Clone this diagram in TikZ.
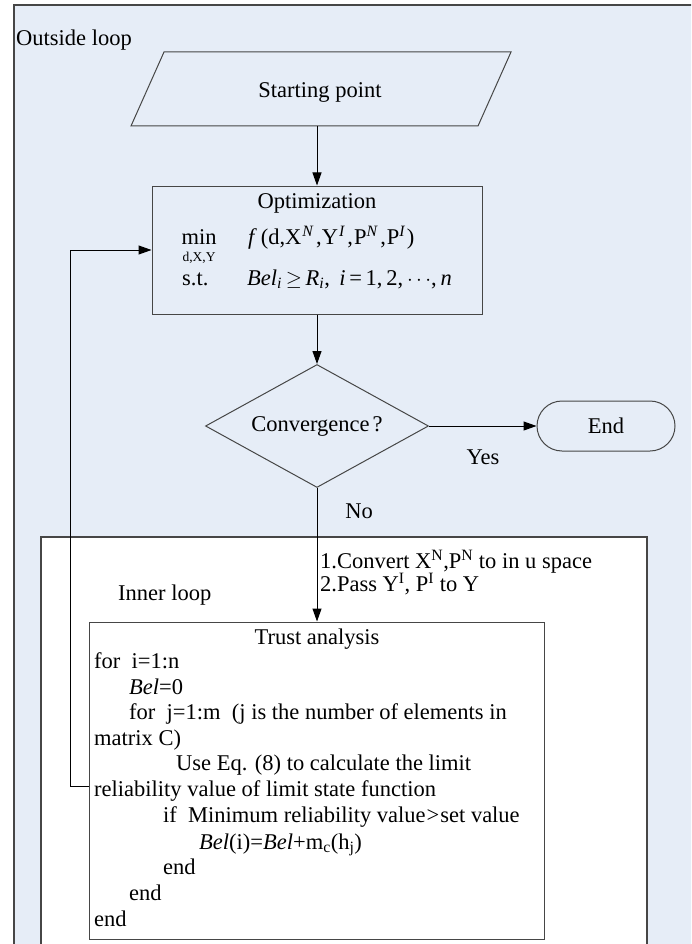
\documentclass[tikz,border=0pt]{standalone}
\usepackage{fontspec}
\setmainfont{Liberation Serif}
\usetikzlibrary{shapes.geometric,arrows.meta}
\definecolor{loopblue}{RGB}{230,237,247}
\definecolor{edgegray}{RGB}{70,70,70}

\begin{document}
\begin{tikzpicture}[x=1pt,y=-1pt,
  every node/.style={font=\fontsize{22.5}{25.8}\selectfont, inner sep=0pt},
  box/.style={draw=edgegray, line width=1pt},
  flow/.style={draw=black, line width=1pt, -{Triangle[length=13pt,width=9pt]}},
  code/.style={anchor=mid west},
  subfont/.style={font=\fontsize{13.5}{14}\selectfont}
]
\useasboundingbox (0,0) rectangle (691,944);

% loop frames
\begin{scope}
  \clip (0,0) rectangle (691,944);
  \fill[loopblue] (14,5) rectangle (700,960);
  \draw[edgegray, line width=1.3pt] (14,960) -- (14,5) -- (700,5);
  \fill[white] (41,537) rectangle (647,960);
  \draw[edgegray, line width=1.3pt] (41,960) -- (41,537) -- (647,537) -- (647,960);
\end{scope}

\node[code] (outlbl) at (16,43) {Outside loop};
\node[code] (innlbl) at (118,598) {Inner loop};

% start (parallelogram)
\draw[box] (164,52) -- (511,52) -- (478,126) -- (131,126) -- cycle;
\node (start) at (320,92) {Starting point};
\coordinate (startbot) at (317,126);

% optimization
\node[box, minimum width=330, minimum height=128] (opt) at (317,250) {};
\node (opttitle) at (317,203) {Optimization};
\node[anchor=mid] (minw) at (199,242) {min};
\node[subfont] (minsub) at (199,258) {d,X,Y};
\node[code] (obj) at (248,242) {\textit{f}\,(d,X\textsuperscript{\kern1pt\textit{N}}\kern2pt,Y\textsuperscript{\kern1pt\textit{I}}\kern2pt,\kern1ptP\textsuperscript{\textit{N}}\kern2pt,\kern1ptP\textsuperscript{\textit{I}}\kern1pt)};
\node[code] (st) at (182,283) {s.t.};
\node[code] (cons) at (247,283) {\textit{Bel}\textsubscript{\textit{i}}\,$\geq$\,\textit{R}\textsubscript{\textit{i}}, \,\textit{i}\,=\,1,\,2,\,$\cdots$,\,\textit{n}};

% decision and end
\node[box, shape=diamond, aspect=1.81, minimum width=223, minimum height=123] (dia) at (317,426) {Convergence\kern3pt?};
\node[box, rounded corners=25pt, minimum width=138, minimum height=50] (endn) at (606,426) {End};
\node (yes) at (483,457) {Yes};
\node (no) at (359,511) {No};

% transfer notes
\node[code] (conv1) at (320,566) {1.Convert X\textsuperscript{N},P\textsuperscript{N} to in u space};
\node[code] (conv2) at (320,589) {2.Pass Y\textsuperscript{I}, P\textsuperscript{I} to Y};

% trust analysis
\node[box, minimum width=455, minimum height=317] (trust) at (316.5,780.5) {};
\node (trusttitle) at (317,639) {Trust analysis};
\node[code] (c1) at (94,666) {for\ \ i=1:n};
\node[code] (c2) at (129,692) {\textit{Bel}=0};
\node[code] (c3) at (129,717) {for\ \ j=1:m\ \ (j is the number of elements in};
\node[code] (c4) at (94,743) {matrix C)};
\node[code] (c5) at (176,768) {Use Eq. (8) to calculate the limit};
\node[code] (c6) at (94,794) {reliability value of limit state function};
\node[code] (c7) at (163,820) {if\ \ Minimum reliability value\kern1pt>\kern1pt set value};
\node[code] (c8) at (199,847) {\textit{Bel}(i)=\textit{Bel}+m\textsubscript{c}(h\textsubscript{j})};
\node[code] (c9) at (163,872) {end};
\node[code] (c10) at (129,898) {end};
\node[code] (c11) at (94,924) {end};
\coordinate (fb) at (89,786);

% connectors
\draw[flow] (startbot) -- (opt.north);
\draw[flow] (opt.south) -- (dia.north);
\draw[flow] (dia.east) -- (endn.west);
\draw[flow] (dia.south) -- (dia.south |- trust.north);
\draw[flow] (fb) -- ++(-19,0) |- (opt.west);
\end{tikzpicture}
\end{document}
